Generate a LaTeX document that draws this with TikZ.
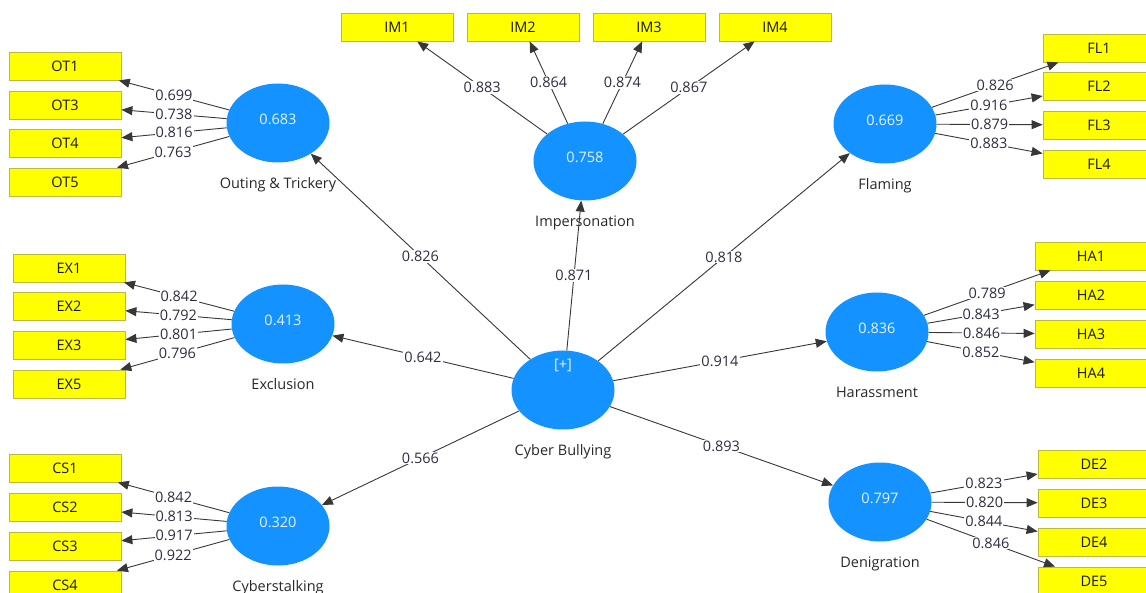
\documentclass[tikz,border=0pt]{standalone}
\usepackage{fontspec}
\setmainfont{Open Sans}
\usetikzlibrary{shapes.geometric,arrows.meta}
\definecolor{lvblue}{RGB}{20,146,255}
\definecolor{indyel}{RGB}{255,255,0}
\definecolor{indbord}{RGB}{185,185,70}
\definecolor{edgecol}{RGB}{55,55,55}
\definecolor{numcol}{RGB}{45,45,65}
\definecolor{namecol}{RGB}{40,40,40}
\begin{document}
\begin{tikzpicture}[x=1pt,y=-1pt,
  fnt/.style={font=\fontsize{14.5}{16}\selectfont},
  latent/.style={ellipse, fill=lvblue, draw=none, minimum width=103pt, minimum height=79pt, inner sep=0pt},
  ind/.style={rectangle, fill=indyel, draw=indbord, line width=0.8pt, minimum width=112pt, minimum height=28pt, inner sep=0pt, fnt, text=black!90},
  val/.style={fnt, text=white!90!lvblue, inner sep=0pt, yshift=4pt},
  lname/.style={fnt, text=namecol, inner sep=0pt, label distance=15pt},
  load/.style={fill=white, inner sep=1pt, fnt, text=numcol, pos=0.5},
  arr/.style={draw=edgecol, line width=0.9pt, -{Triangle[length=11pt,width=9pt]}}]
\useasboundingbox (0,0) rectangle (1146,593);

% latent variables
\node[latent, label={[val,yshift=21pt]center:[+]}, label={[lname]below:Cyber Bullying}] (cb) at (563,390) {};
\node[latent, label={[val]center:0.683}, label={[lname]below:Outing \& Trickery}] (ot) at (278,123) {};
\node[latent, label={[val]center:0.413}, label={[lname]below:Exclusion}] (ex) at (283,324) {};
\node[latent, label={[val]center:0.320}, label={[lname]below:Cyberstalking}] (cs) at (278,526) {};
\node[latent, label={[val]center:0.758}, label={[lname]below:Impersonation}] (im) at (585,161) {};
\node[latent, label={[val]center:0.669}, label={[lname]below:Flaming}] (fl) at (885,124) {};
\node[latent, label={[val]center:0.836}, label={[lname]below:Harassment}] (ha) at (877,332) {};
\node[latent, label={[val]center:0.797}, label={[lname]below:Denigration}] (de) at (880,502) {};

% indicators
\node[ind] (ot1) at (65,66) {OT1};
\node[ind] (ot3) at (65,105) {OT3};
\node[ind] (ot4) at (65,143) {OT4};
\node[ind] (ot5) at (65,182) {OT5};
\node[ind] (ex1) at (69,268) {EX1};
\node[ind] (ex2) at (69,306) {EX2};
\node[ind] (ex3) at (69,345) {EX3};
\node[ind] (ex5) at (69,384) {EX5};
\node[ind] (cs1) at (65,468) {CS1};
\node[ind] (cs2) at (65,507) {CS2};
\node[ind] (cs3) at (65,546) {CS3};
\node[ind] (cs4) at (65,585) {CS4};
\node[ind] (im1) at (397,27) {IM1};
\node[ind] (im2) at (523,27) {IM2};
\node[ind] (im3) at (649,27) {IM3};
\node[ind] (im4) at (775,27) {IM4};
\node[ind] (fl1) at (1099,48) {FL1};
\node[ind] (fl2) at (1099,86) {FL2};
\node[ind] (fl3) at (1099,125) {FL3};
\node[ind] (fl4) at (1099,164) {FL4};
\node[ind] (ha1) at (1091,256) {HA1};
\node[ind] (ha2) at (1091,295) {HA2};
\node[ind] (ha3) at (1091,334) {HA3};
\node[ind] (ha4) at (1091,373) {HA4};
\node[ind] (de2) at (1094,464) {DE2};
\node[ind] (de3) at (1094,503) {DE3};
\node[ind] (de4) at (1094,542) {DE4};
\node[ind] (de5) at (1094,581) {DE5};

% structural paths
\draw[arr] (cb) -- node[load]{0.826} (ot);
\draw[arr] (cb) -- node[load]{0.871} (im);
\draw[arr] (cb) -- node[load]{0.818} (fl);
\draw[arr] (cb) -- node[load]{0.642} (ex);
\draw[arr] (cb) -- node[load]{0.914} (ha);
\draw[arr] (cb) -- node[load]{0.566} (cs);
\draw[arr] (cb) -- node[load]{0.893} (de);

% outer loadings
\draw[arr] (ot) -- node[load]{0.699} (ot1);
\draw[arr] (ot) -- node[load]{0.738} (ot3);
\draw[arr] (ot) -- node[load]{0.816} (ot4);
\draw[arr] (ot) -- node[load]{0.763} (ot5);
\draw[arr] (ex) -- node[load]{0.842} (ex1);
\draw[arr] (ex) -- node[load]{0.792} (ex2);
\draw[arr] (ex) -- node[load]{0.801} (ex3);
\draw[arr] (ex) -- node[load]{0.796} (ex5);
\draw[arr] (cs) -- node[load]{0.842} (cs1);
\draw[arr] (cs) -- node[load]{0.813} (cs2);
\draw[arr] (cs) -- node[load]{0.917} (cs3);
\draw[arr] (cs) -- node[load]{0.922} (cs4);
\draw[arr] (im) -- node[load]{0.883} (im1);
\draw[arr] (im) -- node[load]{0.864} (im2);
\draw[arr] (im) -- node[load]{0.874} (im3);
\draw[arr] (im) -- node[load]{0.867} (im4);
\draw[arr] (fl) -- node[load]{0.826} (fl1);
\draw[arr] (fl) -- node[load]{0.916} (fl2);
\draw[arr] (fl) -- node[load]{0.879} (fl3);
\draw[arr] (fl) -- node[load]{0.883} (fl4);
\draw[arr] (ha) -- node[load]{0.789} (ha1);
\draw[arr] (ha) -- node[load]{0.843} (ha2);
\draw[arr] (ha) -- node[load]{0.846} (ha3);
\draw[arr] (ha) -- node[load]{0.852} (ha4);
\draw[arr] (de) -- node[load]{0.823} (de2);
\draw[arr] (de) -- node[load]{0.820} (de3);
\draw[arr] (de) -- node[load]{0.844} (de4);
\draw[arr] (de) -- node[load]{0.846} (de5);
\end{tikzpicture}
\end{document}
